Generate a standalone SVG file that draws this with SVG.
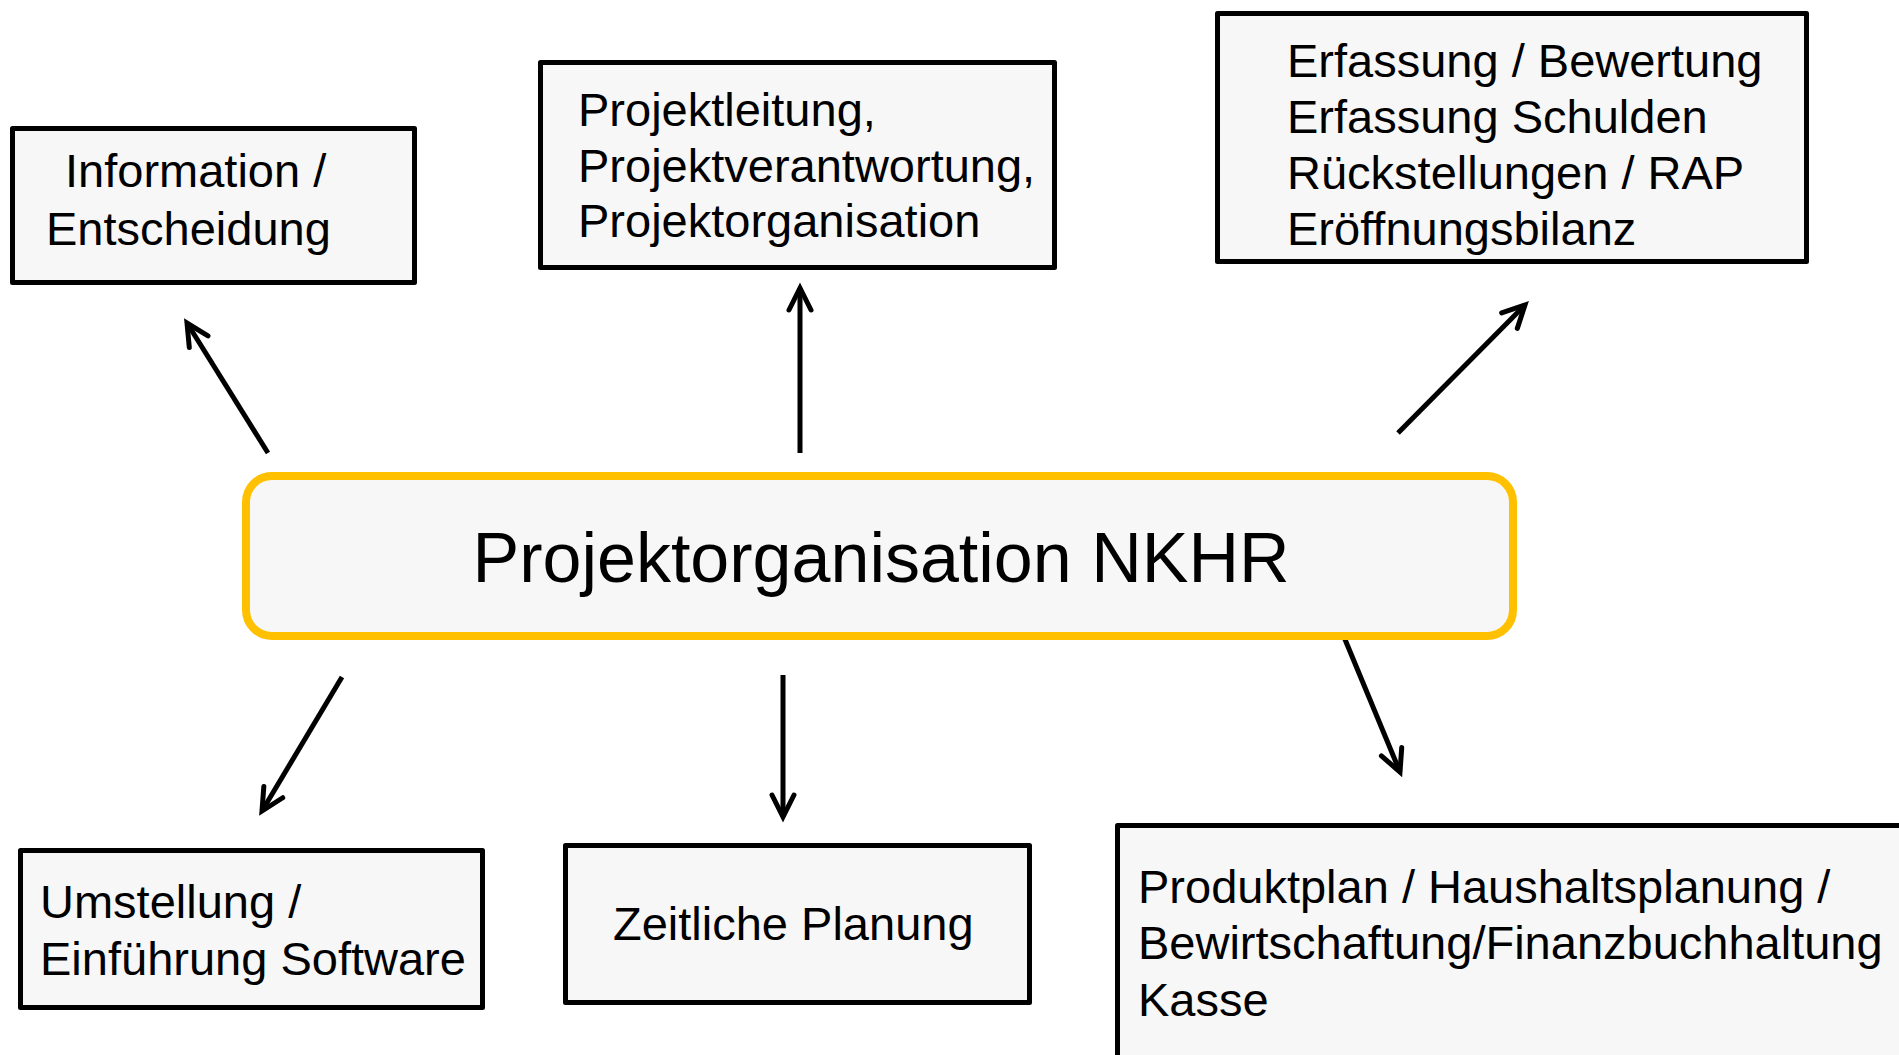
<svg xmlns="http://www.w3.org/2000/svg" width="1899" height="1055" viewBox="0 0 1899 1055">
  <style>
    .box { fill: #F7F7F7; stroke: #000; stroke-width: 5; stroke-linejoin: round; }
    .main { fill: #F7F7F7; stroke: #FFC000; stroke-width: 8; }
    .t { font-family: "Liberation Sans", Arial, sans-serif; font-size: 47px; fill: #000; }
    .tm { font-family: "Liberation Sans", Arial, sans-serif; font-size: 70px; fill: #000; text-anchor: middle; }
    .arr { stroke: #000; stroke-width: 5; fill: none; marker-end: url(#ah); }
  </style>
  <defs>
    <marker id="ah" markerUnits="userSpaceOnUse" markerWidth="40" markerHeight="40" viewBox="-30 -20 40 40" refX="0" refY="0" orient="auto">
      <path d="M-22,-11 L0,0 L-22,11" fill="none" stroke="#000" stroke-width="5" stroke-linecap="round" stroke-linejoin="miter"/>
    </marker>
  </defs>
  <rect width="1899" height="1055" fill="#fff"/>

  <g id="connectors">
    <line class="arr" x1="268" y1="453" x2="187" y2="323"/>
    <line class="arr" x1="800" y1="453" x2="800" y2="288"/>
    <line class="arr" x1="1398" y1="433" x2="1525" y2="305"/>
    <line class="arr" x1="342" y1="677" x2="262" y2="811"/>
    <line class="arr" x1="783" y1="675" x2="783" y2="817"/>
    <line class="arr" x1="1344" y1="637" x2="1400" y2="772"/>
  </g>

  <g id="node-center">
    <rect class="main" x="246" y="476" width="1267" height="160" rx="26" ry="26"/>
    <text class="tm" x="881" y="582">Projektorganisation NKHR</text>
  </g>

  <g id="node-information">
    <rect class="box" x="12.5" y="128.5" width="402" height="154"/>
    <text class="t"><tspan x="65" y="187">Information /</tspan><tspan x="46" y="245">Entscheidung</tspan></text>
  </g>

  <g id="node-projektleitung">
    <rect class="box" x="540.5" y="62.5" width="514" height="205"/>
    <text class="t"><tspan x="578" y="126">Projektleitung,</tspan><tspan x="578" y="182">Projektverantwortung,</tspan><tspan x="578" y="237">Projektorganisation</tspan></text>
  </g>

  <g id="node-erfassung">
    <rect class="box" x="1217.5" y="13.5" width="589" height="248"/>
    <text class="t"><tspan x="1287" y="77">Erfassung / Bewertung</tspan><tspan x="1287" y="133">Erfassung Schulden</tspan><tspan x="1287" y="189">Rückstellungen / RAP</tspan><tspan x="1287" y="245">Eröffnungsbilanz</tspan></text>
  </g>

  <g id="node-umstellung">
    <rect class="box" x="20.5" y="850.5" width="462" height="157"/>
    <text class="t"><tspan x="40" y="918">Umstellung /</tspan><tspan x="40" y="975">Einführung Software</tspan></text>
  </g>

  <g id="node-zeitliche">
    <rect class="box" x="565.5" y="845.5" width="464" height="157"/>
    <text class="t" x="613" y="940">Zeitliche Planung</text>
  </g>

  <g id="node-produktplan">
    <rect class="box" x="1117.5" y="825.5" width="800" height="260"/>
    <text class="t"><tspan x="1138" y="903">Produktplan / Haushaltsplanung /</tspan><tspan x="1138" y="959">Bewirtschaftung/Finanzbuchhaltung</tspan><tspan x="1138" y="1016">Kasse</tspan></text>
  </g>
</svg>
